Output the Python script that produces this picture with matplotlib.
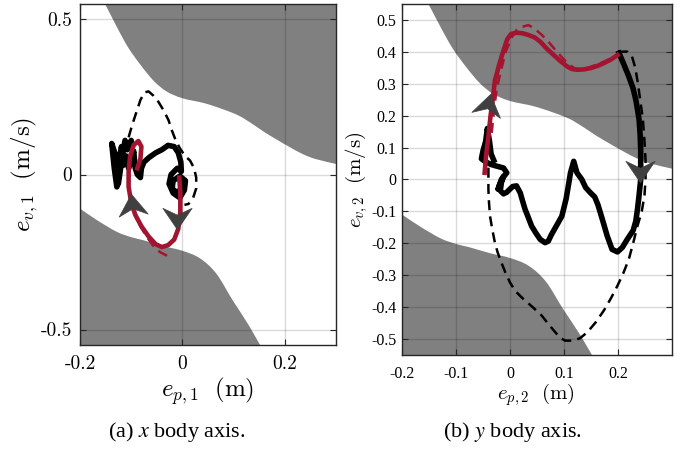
import numpy as np
import matplotlib
matplotlib.use("Agg")
import matplotlib.pyplot as plt
from matplotlib.path import Path
from matplotlib.patches import PathPatch
from matplotlib.markers import MarkerStyle
from matplotlib.transforms import Affine2D

# boundary of the grey (unsafe) region
up_x = [-0.16, -0.151, -0.129, -0.106, -0.081, -0.056, -0.031, 0.0, 0.043, 0.08, 0.11, 0.135, 0.16, 0.185, 0.21,
        0.235, 0.26, 0.30]
up_y = [0.575, 0.55, 0.479, 0.41, 0.352, 0.302, 0.268, 0.246, 0.23, 0.21, 0.19, 0.165, 0.137, 0.112, 0.088,
        0.066, 0.05, 0.034]
low_x = [-0.30, -0.26, -0.23, -0.20, -0.167, -0.128, -0.098, -0.076, -0.037, 0.0, 0.034, 0.066, 0.098, 0.131, 0.16]
low_y = [-0.034, -0.052, -0.078, -0.11, -0.147, -0.185, -0.203, -0.212, -0.231, -0.246, -0.27, -0.319, -0.405,
         -0.49, -0.575]

# (a) x body axis
ax_bs_x = [-0.098, -0.100, -0.108, -0.112, -0.118, -0.125, -0.130, -0.138, -0.133, -0.128, -0.124, -0.119, -0.115,
           -0.110, -0.105, -0.100, -0.095, -0.092, -0.088, -0.082, -0.080, -0.075, -0.065, -0.052, -0.040, -0.028,
           -0.016, -0.008, -0.003, -0.002, -0.010, -0.022, -0.026, -0.018, -0.005, 0.004, 0.006, -0.005, -0.018,
           -0.020, -0.010, 0.000, -0.004]
ax_bs_y = [0.085, 0.110, 0.080, 0.110, 0.050, -0.030, 0.060, 0.100, 0.020, -0.040, 0.040, 0.090, 0.030,
           0.060, 0.020, 0.040, 0.075, 0.020, 0.000, -0.010, 0.020, 0.040, 0.055, 0.070, 0.080, 0.094,
           0.090, 0.070, 0.040, 0.010, 0.020, 0.000, -0.030, -0.060, -0.075, -0.050, -0.020, -0.005, -0.020,
           -0.045, -0.060, -0.040, -0.020]
ax_bd_x = [-0.105, -0.098, -0.090, -0.082, -0.074, -0.066, -0.057, -0.047, -0.036, -0.027, -0.020, -0.013, -0.005,
           0.005, 0.015, 0.023, 0.027, 0.027, 0.021, 0.012, 0.004]
ax_bd_y = [0.120, 0.160, 0.200, 0.240, 0.265, 0.268, 0.255, 0.235, 0.205, 0.175, 0.140, 0.110, 0.085,
           0.060, 0.045, 0.020, -0.010, -0.045, -0.075, -0.095, -0.098]
ax_rs_x = [-0.006, -0.004, -0.004, -0.008, -0.016, -0.028, -0.040, -0.052, -0.066, -0.080, -0.092, -0.100, -0.105,
           -0.105, -0.102, -0.095, -0.086, -0.080, -0.082, -0.088]
ax_rs_y = [-0.010, -0.060, -0.120, -0.175, -0.210, -0.228, -0.234, -0.225, -0.200, -0.167, -0.130, -0.090, -0.040,
           0.010, 0.060, 0.095, 0.108, 0.090, 0.050, 0.020]
ax_rd_x = [-0.030, -0.044, -0.058, -0.072, -0.088, -0.100, -0.106, -0.104, -0.097, -0.088, -0.082]
ax_rd_y = [-0.262, -0.250, -0.228, -0.195, -0.150, -0.095, -0.030, 0.040, 0.090, 0.108, 0.095]
ax_arr_x = [-0.098, -0.010]
ax_arr_y = [-0.094, -0.145]
ax_arr_ang = [6, 180]

# (b) y body axis
ay_rs_x = [-0.047, -0.044, -0.040, -0.036, -0.032, -0.028, -0.020, -0.012, -0.005, 0.002, 0.012, 0.024, 0.034, 0.046,
           0.056, 0.068, 0.081, 0.094, 0.106, 0.115, 0.124, 0.137, 0.149, 0.162, 0.174, 0.187, 0.199]
ay_rs_y = [0.021, 0.080, 0.135, 0.200, 0.250, 0.310, 0.360, 0.405, 0.440, 0.456, 0.460, 0.458, 0.453, 0.445,
           0.432, 0.410, 0.390, 0.370, 0.354, 0.346, 0.344, 0.345, 0.349, 0.356, 0.365, 0.376, 0.390]
ay_rd_x = [-0.034, -0.030, -0.025, -0.017, -0.008, 0.003, 0.012, 0.022, 0.034, 0.046, 0.059, 0.072, 0.084, 0.095,
           0.106, 0.118, 0.130, 0.145, 0.160, 0.175, 0.190, 0.200]
ay_rd_y = [0.146, 0.210, 0.281, 0.340, 0.400, 0.445, 0.468, 0.478, 0.484, 0.472, 0.453, 0.430, 0.406, 0.385,
           0.365, 0.350, 0.344, 0.350, 0.360, 0.370, 0.382, 0.390]
ay_bs_x = [0.202, 0.211, 0.220, 0.228, 0.233, 0.236, 0.239, 0.241, 0.242, 0.242, 0.242, 0.239, 0.236, 0.233, 0.228,
           0.217, 0.208, 0.199, 0.189, 0.180, 0.171, 0.163, 0.157, 0.148, 0.140, 0.133, 0.124, 0.118, 0.112, 0.108,
           0.104, 0.096, 0.084, 0.076, 0.071, 0.065, 0.056, 0.048, 0.040, 0.033, 0.028, 0.022, 0.019, 0.012, 0.005,
           0.000, -0.006, -0.012, -0.018, -0.016, -0.012, -0.020, -0.022, -0.016, -0.006, -0.012, -0.025, -0.035,
           -0.045, -0.053, -0.050, -0.045, -0.042, -0.038, -0.035, -0.030]
ay_bs_y = [0.396, 0.360, 0.323, 0.285, 0.250, 0.220, 0.188, 0.140, 0.094, 0.040, 0.000, -0.050, -0.094, -0.130, -0.160,
           -0.188, -0.213, -0.227, -0.219, -0.177, -0.125, -0.080, -0.055, -0.040, -0.025, 0.000, 0.021, 0.057, 0.021,
           -0.020, -0.060, -0.115, -0.151, -0.175, -0.193, -0.198, -0.188, -0.168, -0.146, -0.115, -0.094, -0.060,
           -0.042, -0.020, -0.022, -0.030, -0.040, -0.045, -0.035, -0.010, 0.010, -0.020, -0.030, 0.000, 0.021, 0.036,
           0.042, 0.047, 0.055, 0.065, 0.090, 0.120, 0.160, 0.120, 0.080, 0.060]
ay_bd_x = [0.200, 0.217, 0.226, 0.232, 0.237, 0.241, 0.246, 0.249, 0.251, 0.251, 0.249, 0.244, 0.236, 0.228, 0.220,
           0.210, 0.199, 0.187, 0.174, 0.159, 0.143, 0.130, 0.118, 0.102, 0.092, 0.084, 0.072, 0.059, 0.042, 0.025,
           0.010, 0.000, -0.009, -0.016, -0.023, -0.028, -0.033, -0.037, -0.039, -0.040, -0.040, -0.040]
ay_bd_y = [0.400, 0.401, 0.385, 0.350, 0.300, 0.250, 0.190, 0.120, 0.060, 0.000, -0.050, -0.100, -0.146, -0.200, -0.250,
           -0.293, -0.333, -0.372, -0.410, -0.447, -0.479, -0.497, -0.505, -0.505, -0.495, -0.479, -0.455, -0.427,
           -0.400, -0.375, -0.350, -0.323, -0.290, -0.260, -0.228, -0.198, -0.155, -0.115, -0.070, -0.031, 0.010, 0.052]
ay_arr_x = [-0.041, 0.241]
ay_arr_y = [0.238, 0.022]
ay_arr_ang = [-12, 180]

red = '#A2142F'
grey = '#808080'
arrow_c = '#404040'
axc = '#262626'


def arrow_marker(ang):
    verts = [(0, 0.6), (-0.85, -0.65), (0, -0.25), (0.85, -0.65), (0, 0.6)]
    codes = [Path.MOVETO, Path.LINETO, Path.LINETO, Path.LINETO, Path.CLOSEPOLY]
    return MarkerStyle(Path(verts, codes), transform=Affine2D().rotate_deg(ang))


def region(xs, ys, edge_y):
    # smooth boundary (catmull-rom as bezier) then close along the edge
    p = np.column_stack([xs, ys])
    verts = [p[0]]
    codes = [Path.MOVETO]
    n = len(p)
    for i in range(n - 1):
        p0 = p[i - 1] if i > 0 else p[i]
        p3 = p[i + 2] if i + 2 < n else p[i + 1]
        verts += [p[i] + (p[i + 1] - p0) / 6, p[i + 1] - (p3 - p[i]) / 6, p[i + 1]]
        codes += [Path.CURVE4] * 3
    verts += [(xs[-1], edge_y), (xs[0], edge_y), p[0]]
    codes += [Path.LINETO, Path.LINETO, Path.CLOSEPOLY]
    return Path(verts, codes)


def draw_panel(ax, bs, bd, rs, rd, arr):
    ax.add_patch(PathPatch(region(up_x, up_y, 0.7), fc=grey, ec='none', zorder=1))
    ax.add_patch(PathPatch(region(low_x, low_y, -0.7), fc=grey, ec='none', zorder=1))
    ax.plot(bd[0], bd[1], color='k', lw=1.8, ls=(0, (4, 2.5)), zorder=3)
    ax.plot(bs[0], bs[1], color='k', lw=4.0, solid_joinstyle='round', zorder=4)
    ax.plot(rd[0], rd[1], color=red, lw=1.8, ls=(0, (4, 2.5)), zorder=5)
    ax.plot(rs[0], rs[1], color=red, lw=3.3, solid_joinstyle='round', zorder=6)
    for x, y, a in zip(arr[0], arr[1], arr[2]):
        ax.plot([x], [y], marker=arrow_marker(a), ms=21, color=arrow_c, mec=arrow_c, mew=0.5, zorder=7)
    ax.set_xlim(-0.2, 0.3)
    ax.set_ylim(-0.55, 0.55)
    ax.set_axisbelow(False)
    ax.grid(True, color='k', alpha=0.15, lw=1.0)
    for s in ax.spines.values():
        s.set_color(axc)
        s.set_linewidth(1.0)
        s.set_zorder(8)
    ax.tick_params(direction='in', top=True, right=True, length=4.5, width=0.8, color=axc)


fig = plt.figure(figsize=(6.83, 4.49), dpi=100)

ax1 = fig.add_axes([0.1171, 0.2316, 0.3748, 0.7595])
draw_panel(ax1, (ax_bs_x, ax_bs_y), (ax_bd_x, ax_bd_y), (ax_rs_x, ax_rs_y), (ax_rd_x, ax_rd_y),
           (ax_arr_x, ax_arr_y, ax_arr_ang))
ax1.set_xticks([-0.2, 0, 0.2])
ax1.set_xticklabels(['-0.2', '0', '0.2'], fontfamily='cmr10', fontsize=14)
ax1.set_yticks([-0.5, 0, 0.5])
ax1.set_yticklabels(['-0.5', '0', '0.5'], fontfamily='cmr10', fontsize=14)
ax1.tick_params(axis='x', pad=7)
ax1.tick_params(axis='y', pad=6)
ax1.text(0.5, -0.135, r'$e_{p,1}\ \ (\mathrm{m})$', transform=ax1.transAxes, ha='center', va='center',
         fontsize=18, math_fontfamily='cm')
ax1.text(-0.215, 0.5, r'$e_{v,1}\ \ (\mathrm{m/s})$', transform=ax1.transAxes, ha='center', va='center',
         fontsize=18, rotation=90, math_fontfamily='cm')

ax2 = fig.add_axes([0.5886, 0.2094, 0.3953, 0.7817])
draw_panel(ax2, (ay_bs_x, ay_bs_y), (ay_bd_x, ay_bd_y), (ay_rs_x, ay_rs_y), (ay_rd_x, ay_rd_y),
           (ay_arr_x, ay_arr_y, ay_arr_ang))
xt2 = [-0.2, -0.1, 0, 0.1, 0.2]
yt2 = [-0.5, -0.4, -0.3, -0.2, -0.1, 0, 0.1, 0.2, 0.3, 0.4, 0.5]
ax2.set_xticks(xt2)
ax2.set_xticklabels(['%g' % v for v in xt2], fontfamily='Liberation Serif', fontsize=11.5)
ax2.set_yticks(yt2)
ax2.set_yticklabels(['%g' % v for v in yt2], fontfamily='Liberation Serif', fontsize=11.5)
ax2.tick_params(axis='x', pad=8)
ax2.tick_params(axis='y', pad=4)
ax2.text(0.496, -0.114, r'$e_{p,2}\ \ (\mathrm{m})$', transform=ax2.transAxes, ha='center', va='center',
         fontsize=15, math_fontfamily='cm')
ax2.text(-0.170, 0.5, r'$e_{v,2}\ \ (\mathrm{m/s})$', transform=ax2.transAxes, ha='center', va='center',
         fontsize=15, rotation=90, math_fontfamily='cm')

fig.text(177 / 683, 1 - 432 / 449, r'(a) $x$ body axis.', ha='center', va='center', fontsize=16,
         fontfamily='Liberation Serif', math_fontfamily='stix')
fig.text(512 / 683, 1 - 432 / 449, r'(b) $y$ body axis.', ha='center', va='center', fontsize=16,
         fontfamily='Liberation Serif', math_fontfamily='stix')

fig.savefig('out.png', dpi=100)
